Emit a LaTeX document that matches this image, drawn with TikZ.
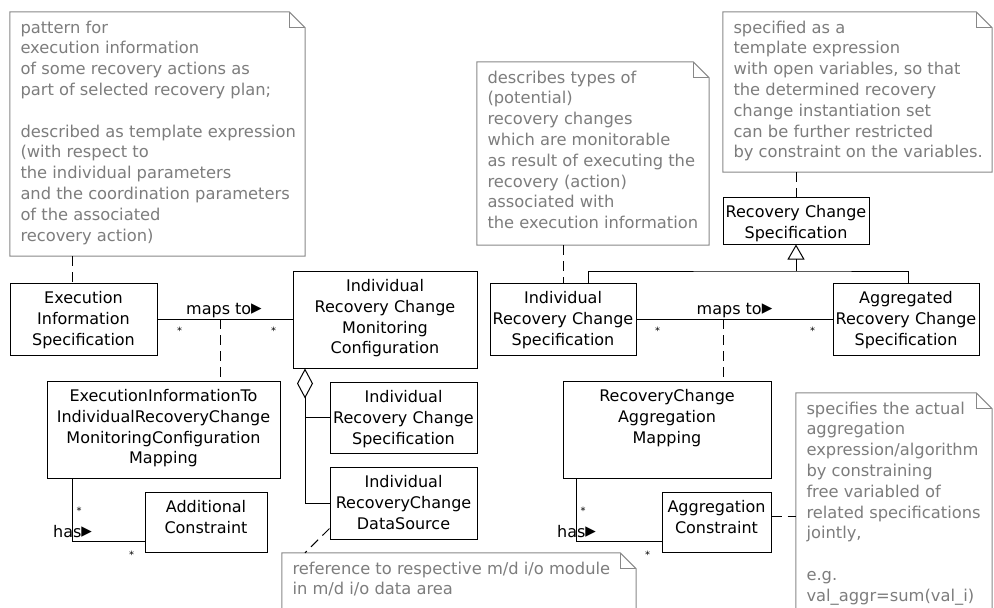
\documentclass[tikz,border=0pt]{standalone}
\usepackage{fontspec}
\setmainfont{DejaVu Sans}
\usetikzlibrary{arrows.meta,fit,calc}

\definecolor{noteframe}{RGB}{136,136,136}
\definecolor{notefont}{RGB}{125,125,125}

\tikzset{
  box/.style={draw=black, line width=1pt, inner sep=0pt},
  boxtext/.style={font=\fontsize{16}{20.7}\selectfont, align=center, inner sep=0pt, anchor=north},
  notebody/.style={inner sep=0pt},
  noteline/.style={draw=noteframe, line width=1pt},
  notetext/.style={text=notefont, font=\fontsize{16.3}{20.8}\selectfont, align=left, inner sep=0pt, anchor=north west},
  link/.style={line width=1pt},
  notelink/.style={line width=1pt, dash pattern=on 10pt off 6pt},
  mult/.style={font=\fontsize{10}{12}\selectfont, inner sep=0pt},
  role/.style={font=\fontsize{16}{20}\selectfont, inner sep=0pt, anchor=base},
}

% first line of a block: baseline sits 15pt below the block top
\newcommand\firstline{\rule{0pt}{15pt}}
% reading-direction marker of an association name
\newcommand\readdir{{\fontsize{21}{21}\selectfont▸}}

% class box: name, x1, y1, x2, y2, text
\newcommand\umlclass[6]{%
  \node[box, fit={(#2,#3) (#4,#5)}] (#1) {};
  \node[boxtext] (#1-label) at ([yshift=-6pt]#1.north) {\firstline#6};
}
% note with folded corner: name, x1, y1, x2, y2, text
\newcommand\umlnote[6]{%
  \node[notebody, fit={(#2,#3) (#4,#5)}] (#1) {};
  \draw[noteline] (#1.north west) -- ([xshift=-16pt]#1.north east)
    -- ([yshift=-16pt]#1.north east) -- (#1.south east) -- (#1.south west) -- cycle;
  \draw[noteline] ([xshift=-16pt]#1.north east) |- ([yshift=-16pt]#1.north east);
  \node[notetext] (#1-label) at ([xshift=10.5pt, yshift=-6pt]#1.north west) {\firstline#6};
}

\begin{document}
\begin{tikzpicture}[x=1pt, y=-1pt]
\path[use as bounding box, fill=white] (0,0) rectangle (994,608);

% ---------- notes ----------
\umlnote{n1}{10}{12}{305}{256}{pattern for\\execution information\\of some recovery actions as\\part of selected recovery plan;\\ \mbox{}\\described as template expression\\(with respect to\\the individual parameters\\and the coordination parameters\\of the associated\\recovery action)}
\umlnote{n2}{477}{62}{709}{245}{describes types of\\(potential)\\recovery changes\\which are monitorable\\as result of executing the\\recovery (action)\\associated with\\the execution information}
\umlnote{n3}{723}{12}{992}{172}{specified as a\\template expression\\with open variables, so that\\the determined recovery\\change instantiation set\\can be further restricted\\by constraint on the variables.}
\umlnote{n4}{796}{393}{992}{640}{specifies the actual\\aggregation\\expression/algorithm\\by constraining\\free variabled of\\related specifications\\jointly,\\ \mbox{}\\e.g.\\val\_aggr=sum(val\_i)}
\umlnote{n5}{282}{553}{636}{640}{reference to respective m/d i/o module\\in m/d i/o data area}

% ---------- classes, left part ----------
\umlclass{exec}{10}{283}{157}{355}{Execution\\Information\\Specification}
\umlclass{ircmc}{293}{271}{477}{368}{Individual\\Recovery Change\\Monitoring\\Configuration}
\umlclass{map1}{47}{381}{280}{478}{ExecutionInformationTo\\IndividualRecoveryChange\\MonitoringConfiguration\\Mapping}
\umlclass{addc}{145}{492}{267}{552}{Additional\\Constraint}
\umlclass{ircs1}{330}{382}{477}{453}{Individual\\Recovery Change\\Specification}
\umlclass{ds}{330}{467}{477}{539}{Individual\\RecoveryChange\\DataSource}

% ---------- classes, right part ----------
\umlclass{rcs}{723}{197}{869}{244}{Recovery Change\\Specification}
\umlclass{ircs2}{490}{283}{636}{355}{Individual\\Recovery Change\\Specification}
\umlclass{agg}{833}{283}{979}{355}{Aggregated\\Recovery Change\\Specification}
\umlclass{map2}{563}{381}{771}{478}{RecoveryChange\\Aggregation\\Mapping}
\umlclass{aggc}{662}{492}{771}{552}{Aggregation\\Constraint}

% ---------- helper columns / rows ----------
\coordinate (c1) at (72,0);
\coordinate (c2) at (220,0);
\coordinate (c3) at (305,0);
\coordinate (h1) at (72,541);
\coordinate (c4) at (563,0);
\coordinate (c5) at (723,0);
\coordinate (g1) at (588,0);
\coordinate (g2) at (796,271);
\coordinate (g3) at (908,0);
\coordinate (h2) at (576,541);
\coordinate (r4) at (0,516);

% ---------- left connectors ----------
\draw[notelink] (n1.south -| c1) -- (exec.north -| c1);
\draw[link] (exec.east) -- (exec.east -| ircmc.west);
\node[role] (maps1) at ($(exec.east)!0.5!(exec.east -| ircmc.west) + (-1,-5)$) {maps to\readdir};
\node[mult] (m1) at ([xshift=22pt, yshift=-12pt]exec.east) {*};
\node[mult] (m2) at ([xshift=-19pt, yshift=-12pt]exec.east -| ircmc.west) {*};
\draw[notelink] (exec.east -| c2) -- (map1.north -| c2);

\draw[link] (map1.south -| c1) -- (h1) -- (h1 -| addc.west);
\node[mult] (m3) at ([xshift=7pt, yshift=30pt]h1) {*};
\node[role, anchor=base west] (has1) at ([xshift=-19pt, yshift=4pt]h1) {has\readdir};
\node[mult] (m4) at ([xshift=-13pt, yshift=-14pt]h1 -| addc.west) {*};

\draw[link, {Diamond[open, length=30pt, width=16pt]}-] (ircmc.south -| c3) |- (ds.west);
\draw[link] (c3 |- ircs1.west) -- (ircs1.west);
\draw[notelink] ([yshift=11pt]ds.south west) -- (n5.north -| c3);

% ---------- right connectors ----------
\draw[notelink] (n2.south -| c4) -- (ircs2.north -| c4);
\draw[notelink] (rcs.north |- n3.south) -- (rcs.north);
\draw[link] (ircs2.north -| g1) |- (g2) -| (agg.north -| g3);
\draw[link, -{Triangle[open, length=15pt, width=17pt]}] (g2) -- (rcs.south);

\draw[link] (ircs2.east) -- (ircs2.east -| agg.west);
\node[role] (maps2) at ($(ircs2.east)!0.5!(ircs2.east -| agg.west) + (0,-5)$) {maps to\readdir};
\node[mult] (m5) at ([xshift=21pt, yshift=-12pt]ircs2.east) {*};
\node[mult] (m6) at ([xshift=-20pt, yshift=-12pt]ircs2.east -| agg.west) {*};
\draw[notelink] (ircs2.east -| c5) -- (map2.north -| c5);

\draw[link] (map2.south -| h2) -- (h2) -- (h2 -| aggc.west);
\node[mult] (m7) at ([xshift=7pt, yshift=30pt]h2) {*};
\node[role, anchor=base west] (has2) at ([xshift=-19pt, yshift=4pt]h2) {has\readdir};
\node[mult] (m8) at ([xshift=-14pt, yshift=-14pt]h2 -| aggc.west) {*};

\draw[notelink] (aggc.east |- r4) -- (n4.west |- r4);
\end{tikzpicture}
\end{document}
